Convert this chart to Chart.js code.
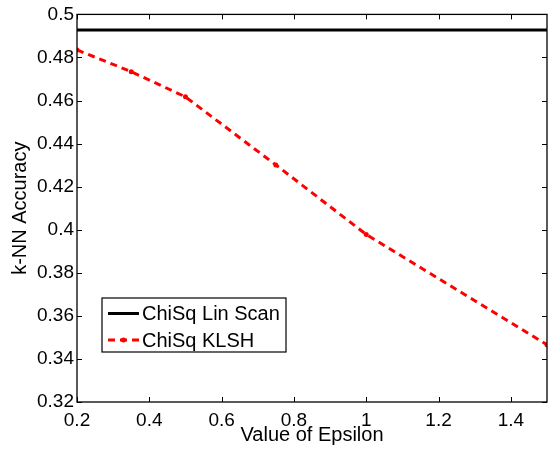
<!DOCTYPE html>
<html>
<head>
<meta charset="utf-8">
<script src="https://cdn.jsdelivr.net/npm/chart.js@4/dist/chart.umd.min.js"></script>
<style>
html,body{margin:0;padding:0;background:#fff;}
#wrap{width:551px;height:449px;}
</style>
</head>
<body>
<div id="wrap"><canvas id="c" width="551" height="449"></canvas></div>
<script>
const epsilon = [0.2, 0.35, 0.5, 0.75, 1.0, 1.5];
const linScan = [0.4927, 0.4927, 0.4927, 0.4927, 0.4927, 0.4927];
const klsh = [0.4835, 0.4734, 0.4617, 0.4301, 0.3978, 0.3466];
const xTicks = [0.2, 0.4, 0.6, 0.8, 1, 1.2, 1.4];
const yTicks = [0.32, 0.34, 0.36, 0.38, 0.4, 0.42, 0.44, 0.46, 0.48, 0.5];
const FONT = "'Liberation Sans', Arial, Helvetica, sans-serif";

const framePlugin = {
  id: 'frame',
  afterDatasetsDraw(chart) {
    const {ctx, chartArea: a, scales: {x, y}} = chart;
    ctx.save();
    ctx.strokeStyle = '#000';
    ctx.lineWidth = 1.3;
    ctx.strokeRect(a.left, a.top, a.right - a.left, a.bottom - a.top);
    const L = 5;
    ctx.beginPath();
    xTicks.forEach(v => {
      const px = Math.round(x.getPixelForValue(v)) + 0.5;
      ctx.moveTo(px, a.bottom); ctx.lineTo(px, a.bottom - L);
      ctx.moveTo(px, a.top); ctx.lineTo(px, a.top + L);
    });
    yTicks.forEach(v => {
      const py = Math.round(y.getPixelForValue(v)) + 0.5;
      ctx.moveTo(a.left, py); ctx.lineTo(a.left + L, py);
      ctx.moveTo(a.right, py); ctx.lineTo(a.right - L, py);
    });
    ctx.lineWidth = 1;
    ctx.stroke();

    // legend
    const bx = 102, by = 298, bw = 184, bh = 54;
    ctx.fillStyle = '#fff';
    ctx.fillRect(bx, by, bw, bh);
    ctx.lineWidth = 1.2;
    ctx.strokeRect(bx, by, bw, bh);
    ctx.font = '20px ' + FONT;
    ctx.textBaseline = 'middle';
    ctx.textAlign = 'left';
    chart.data.datasets.forEach((ds, i) => {
      const ry = by + 15.5 + i * 26.5;
      ctx.save();
      ctx.strokeStyle = ds.borderColor;
      ctx.lineWidth = ds.borderWidth;
      ctx.setLineDash(ds.borderDash || []);
      ctx.beginPath();
      ctx.moveTo(108, ry); ctx.lineTo(139, ry);
      ctx.stroke();
      if (ds.pointRadius > 0) {
        ctx.fillStyle = ds.borderColor;
        ctx.beginPath();
        ctx.arc(123.5, ry, ds.pointRadius, 0, Math.PI * 2);
        ctx.fill();
      }
      ctx.restore();
      ctx.fillStyle = '#000';
      ctx.fillText(ds.label, 142, ry + 1);
    });
    ctx.restore();
  }
};

new Chart(document.getElementById('c'), {
  type: 'line',
  data: {
    datasets: [
      {
        label: 'ChiSq Lin Scan',
        data: epsilon.map((e, i) => ({x: e, y: linScan[i]})),
        borderColor: '#000',
        borderWidth: 3,
        pointRadius: 0,
        tension: 0,
        fill: false
      },
      {
        label: 'ChiSq KLSH',
        data: epsilon.map((e, i) => ({x: e, y: klsh[i]})),
        borderColor: '#ff0000',
        backgroundColor: '#ff0000',
        borderWidth: 3,
        borderDash: [7, 5],
        pointRadius: 2.5,
        pointBorderWidth: 0,
        pointBackgroundColor: '#ff0000',
        tension: 0,
        fill: false
      }
    ]
  },
  options: {
    responsive: false,
    animation: false,
    devicePixelRatio: 1,
    layout: {padding: {top: 14, right: 4, left: 0, bottom: 0}},
    plugins: {legend: {display: false}, tooltip: {enabled: false}},
    scales: {
      x: {
        type: 'linear',
        min: 0.2, max: 1.5,
        afterBuildTicks(s) { s.ticks = xTicks.map(v => ({value: v})); },
        afterFit(s) { s.height = 47; },
        grid: {display: false, drawTicks: false},
        border: {display: false},
        ticks: {
          color: '#000', padding: 7,
          font: {family: FONT, size: 19},
          callback: v => String(v),
          maxRotation: 0, autoSkip: false
        },
        title: {
          display: true, text: 'Value of Epsilon', color: '#000',
          font: {family: FONT, size: 20}, padding: {top: 0, bottom: 1.5}
        }
      },
      y: {
        type: 'linear',
        min: 0.32, max: 0.5,
        afterBuildTicks(s) { s.ticks = yTicks.map(v => ({value: v})); },
        afterFit(s) { s.width = 77; },
        grid: {display: false, drawTicks: false},
        border: {display: false},
        ticks: {
          color: '#000', padding: 3,
          font: {family: FONT, size: 19},
          callback: v => String(v),
          autoSkip: false
        },
        title: {
          display: true, text: 'k-NN Accuracy', color: '#000',
          font: {family: FONT, size: 20}, padding: {top: 8, bottom: 0}
        }
      }
    }
  },
  plugins: [framePlugin]
});
</script>
</body>
</html>
